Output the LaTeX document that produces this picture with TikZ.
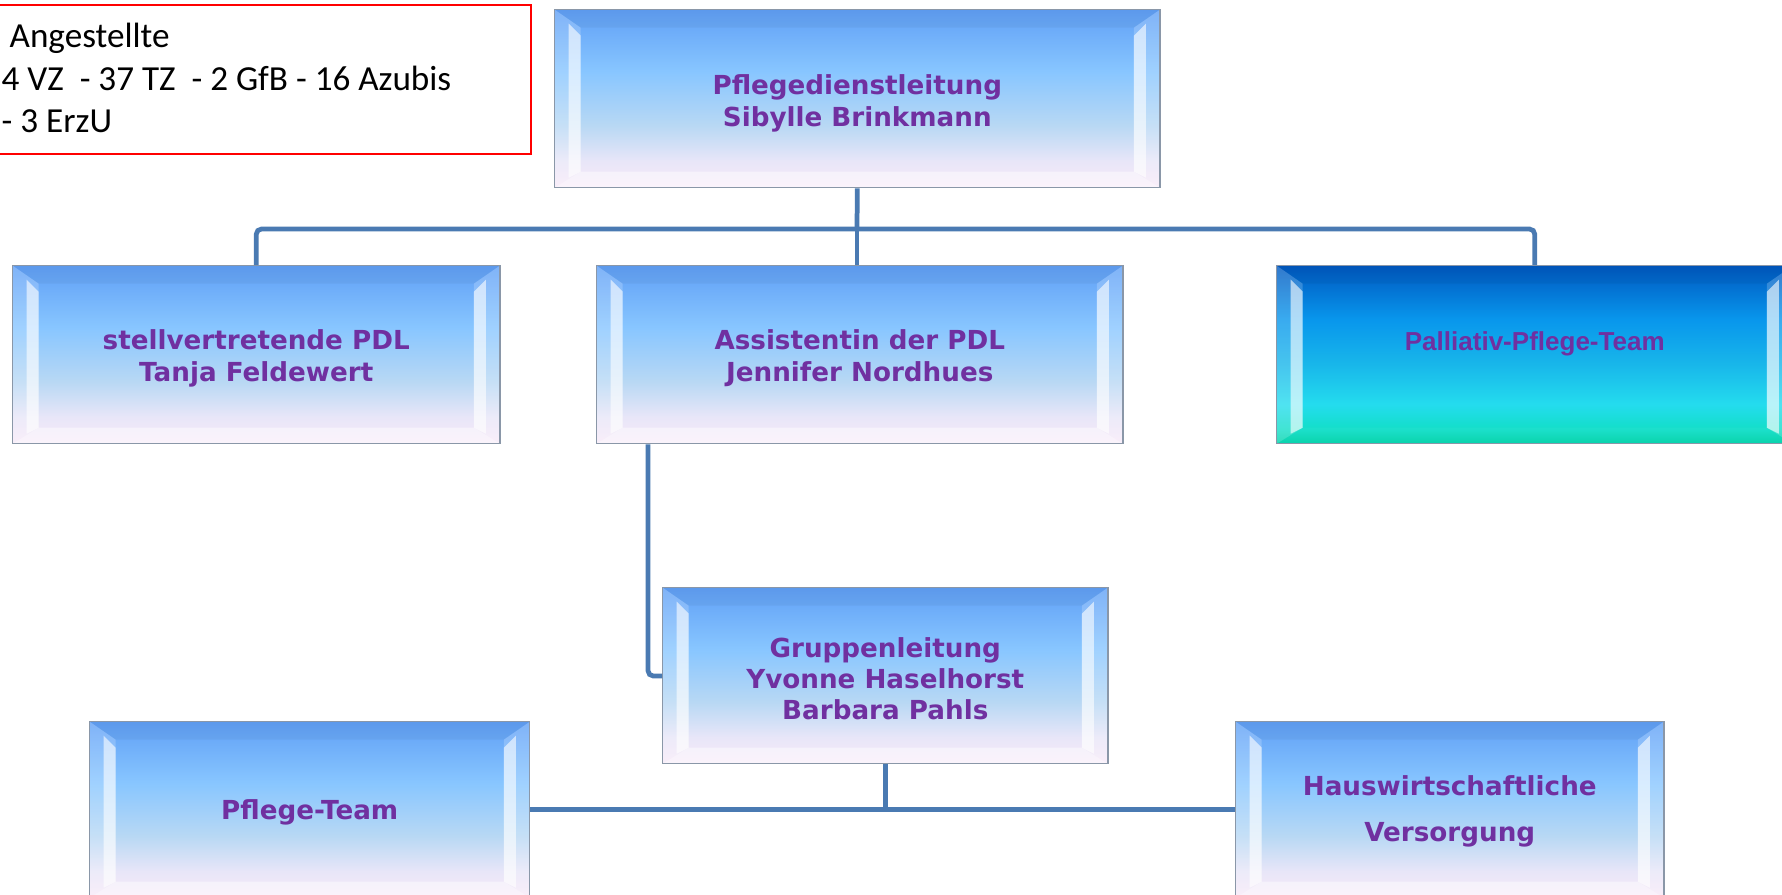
\documentclass[tikz,border=0pt]{standalone}
\usepackage{fontspec}
\setmainfont{Carlito}
\newfontfamily\vfont{DejaVu Sans}
\newfontfamily\afont{Liberation Sans}
\usetikzlibrary{calc}
\definecolor{bb1}{HTML}{60A0F6}
\definecolor{bb2}{HTML}{88C6FF}
\definecolor{bb3}{HTML}{B8D8F4}
\definecolor{bb4}{HTML}{E8E6F8}
\definecolor{bb5}{HTML}{F8EAF8}
\definecolor{pp1}{HTML}{0058C0}
\definecolor{pp2}{HTML}{0896EC}
\definecolor{pp3}{HTML}{18B6EA}
\definecolor{pp4}{HTML}{24DCEE}
\definecolor{pp5}{HTML}{12DEC8}
\definecolor{pp6}{HTML}{00D2A8}
\definecolor{conncol}{HTML}{4A7AB2}
\definecolor{txtpurple}{HTML}{7030A0}
\definecolor{boxedge}{HTML}{8A97A8}
\pgfdeclareverticalshading{bluebox}{100bp}{color(0bp)=(bb5); color(25bp)=(bb5); color(32.5bp)=(bb4); color(42.5bp)=(bb3); color(57.5bp)=(bb2); color(75bp)=(bb1); color(100bp)=(bb1)}
\pgfdeclareverticalshading{palbox}{100bp}{color(0bp)=(pp6); color(25bp)=(pp6); color(29bp)=(pp5); color(36bp)=(pp4); color(47.5bp)=(pp3); color(60bp)=(pp2); color(75bp)=(pp1); color(100bp)=(pp1)}
\newcommand\shiftedtext[2]{\raisebox{#1}[\height][\depth]{\begin{tabular}{@{}c@{}}#2\end{tabular}}}
\pgfkeys{/tikz/bevelbot/.initial=0.45}
\tikzset{
  bevel/.style={path picture={
    \coordinate (bnw) at (path picture bounding box.north west);
    \coordinate (bne) at (path picture bounding box.north east);
    \coordinate (bsw) at (path picture bounding box.south west);
    \coordinate (bse) at (path picture bounding box.south east);
    \fill[black, opacity=0.04] (bnw) -- (bne) -- ($(bne)+(-26,18)$) -- ($(bnw)+(26,18)$) -- cycle;
    \fill[white, opacity=0.2] (bnw) -- (bsw) -- ($(bsw)+(26,-16)$) -- ($(bnw)+(26,18)$) -- cycle;
    \fill[white, opacity=0.6] ($(bnw)+(14,14)$) -- ($(bnw)+(26,26)$) -- ($(bsw)+(26,-16)$) -- ($(bsw)+(14,-10)$) -- cycle;
    \fill[white, opacity=0.2] (bne) -- (bse) -- ($(bse)+(-26,-16)$) -- ($(bne)+(-26,18)$) -- cycle;
    \fill[white, opacity=0.6] ($(bne)+(-14,14)$) -- ($(bne)+(-26,26)$) -- ($(bse)+(-26,-16)$) -- ($(bse)+(-14,-10)$) -- cycle;
    \fill[white, opacity=\pgfkeysvalueof{/tikz/bevelbot}] (bsw) -- (bse) -- ($(bse)+(-26,-16)$) -- ($(bsw)+(26,-16)$) -- cycle;
  }},
  orgbox/.style={rectangle, shading=bluebox, draw=boxedge, line width=0.35pt, bevel,
    anchor=north west, inner sep=0pt, text=txtpurple,
    font=\vfont\bfseries\fontsize{7.45}{9.1}\selectfont},
  palstyle/.style={orgbox, shading=palbox, bevelbot=0.04, font=\afont\bfseries\fontsize{7.4}{9}\selectfont},
  conn/.style={draw=conncol, line width=1.35pt, rounded corners=1.5pt},
  infobox/.style={rectangle, draw=red, line width=0.55pt, anchor=north west, inner sep=0pt},
  infotext/.style={anchor=north west, inner sep=0pt, align=left, font=\fontsize{10}{12.2}\selectfont}
}
\begin{document}
\begin{tikzpicture}[x=0.01cm, y=-0.01cm]
\useasboundingbox (0,0) rectangle (1782,894);
\fill[white] (0,0) rectangle (1782,894);
\clip (0,0) rectangle (1782,894);

% info box
\node[infobox, minimum width=5.35cm, minimum height=1.49cm] (info) at (-5,4) {};
\node[infotext] (infot) at (1,22) {\ Angestellte\\4 VZ \ - 37 TZ \ - 2 GfB - 16 Azubis\\- 3 ErzU};

% boxes
\node[orgbox, minimum width=6.05cm, minimum height=1.78cm] (pdl) at (554,9) {\shiftedtext{-1.65pt}{Pflegedienstleitung\\Sibylle Brinkmann}};
\node[orgbox, minimum width=4.87cm, minimum height=1.78cm] (stv) at (12,265) {\shiftedtext{-1.3pt}{stellvertretende PDL\\Tanja Feldewert}};
\node[orgbox, minimum width=5.26cm, minimum height=1.78cm] (ass) at (596,265) {\shiftedtext{-1.3pt}{Assistentin der PDL\\Jennifer Nordhues}};
\node[palstyle, minimum width=5.16cm, minimum height=1.78cm] (pal) at (1276,265) {\shiftedtext{3.1pt}{Palliativ-Pflege-Team}};
\node[orgbox, minimum width=4.45cm, minimum height=1.76cm, font=\vfont\bfseries\fontsize{7.45}{8.8}\selectfont] (grp) at (662,587) {\shiftedtext{-1.8pt}{Gruppenleitung\\Yvonne Haselhorst\\Barbara Pahls}};
\node[orgbox, minimum width=4.40cm, minimum height=1.76cm] (pt) at (89,721) {\shiftedtext{-1.1pt}{Pflege-Team}};
\node[orgbox, minimum width=4.28cm, minimum height=1.76cm, font=\vfont\bfseries\fontsize{7.45}{13.1}\selectfont] (hw) at (1235,721) {\shiftedtext{0pt}{Hauswirtschaftliche\\Versorgung}};

% connectors
\coordinate (bus) at (857,229);
\coordinate (knee) at (648,676);
\draw[conn] (pdl.south) -- (bus);
\draw[conn] (stv.north) -- (stv.north |- bus) -- (pal.north |- bus) -- (pal.north);
\draw[conn] (bus) -- (bus |- ass.north);
\draw[conn] (knee |- ass.south) -- (knee) -- (knee -| grp.west);
\draw[conn] (grp.south) -- (grp.south |- pt.east);
\draw[conn] (pt.east) -- (pt.east -| hw.west);
\end{tikzpicture}
\end{document}
